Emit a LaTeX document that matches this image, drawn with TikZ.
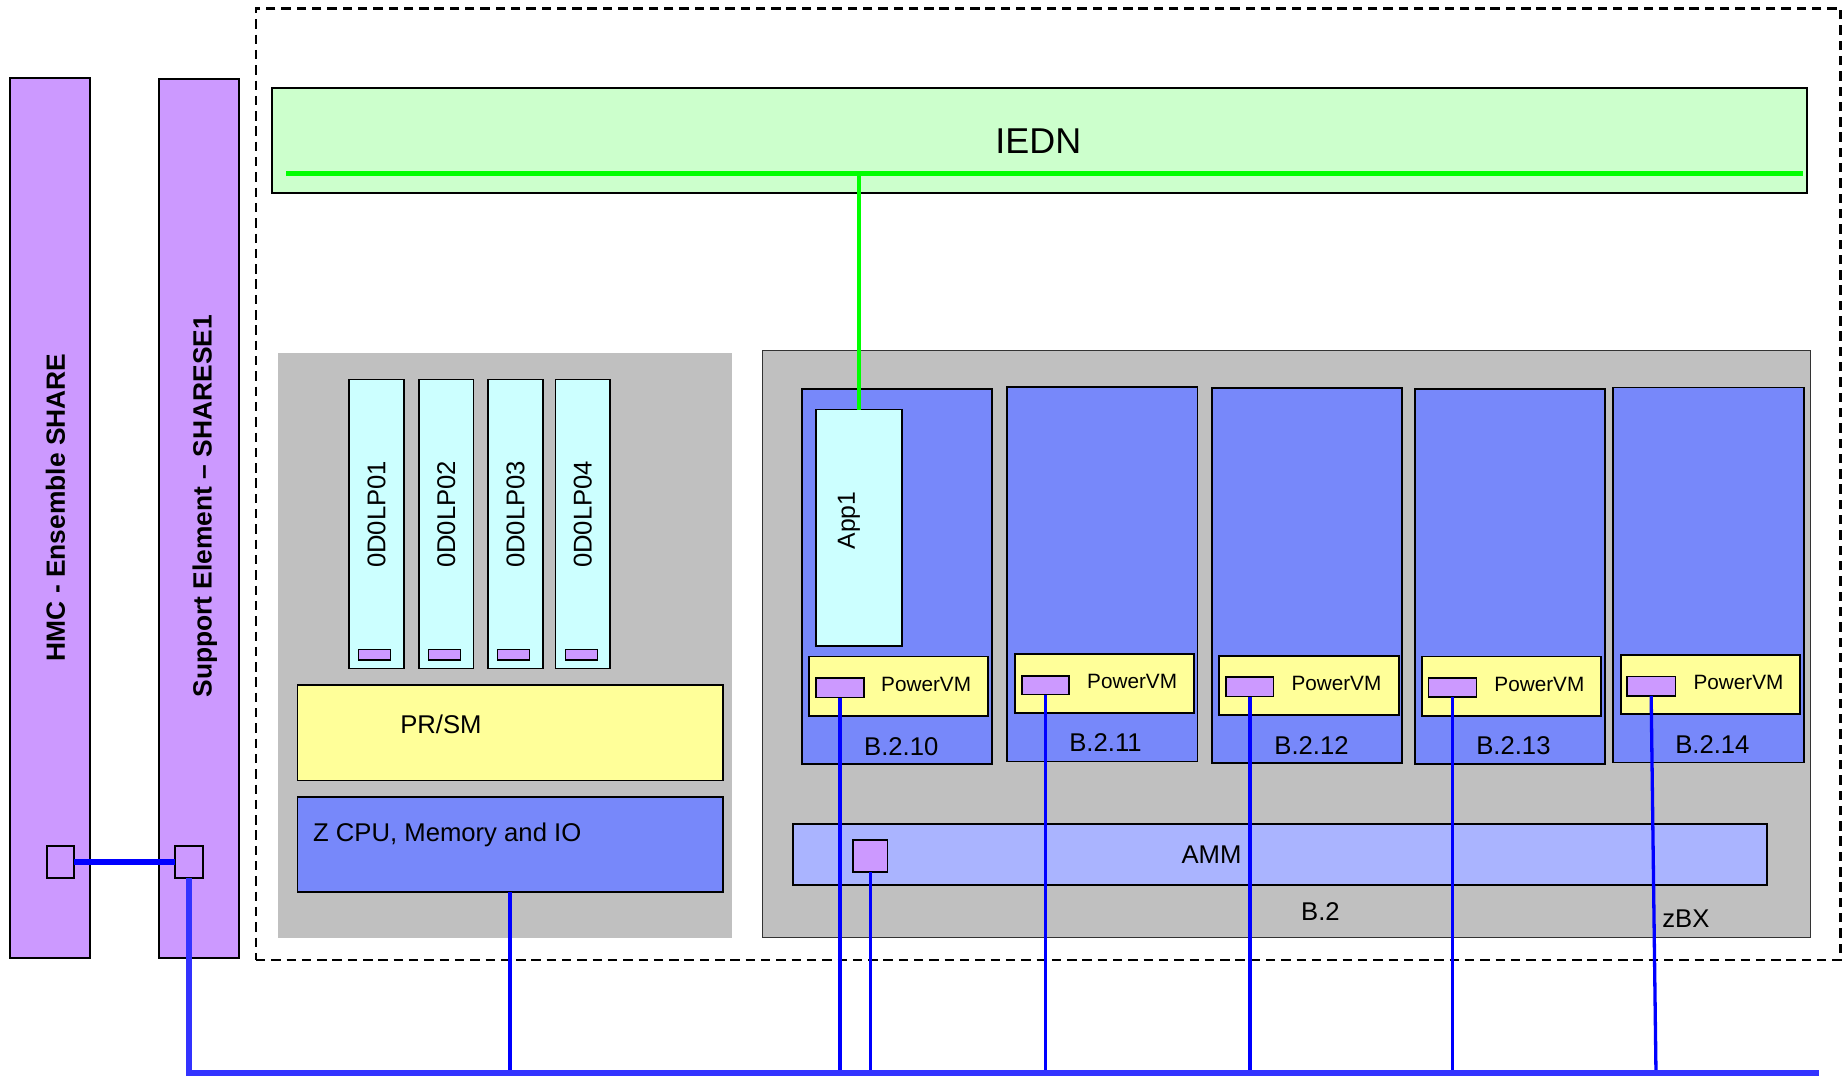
\documentclass[tikz,border=0pt]{standalone}
\usepackage{fontspec}
\setmainfont{Liberation Sans}
\definecolor{purp}{HTML}{CC99FF}
\definecolor{iednc}{HTML}{CCFFCC}
\definecolor{grayb}{HTML}{C0C0C0}
\definecolor{blade}{HTML}{7788FA}
\definecolor{ammc}{HTML}{AAB4FF}
\definecolor{cyanb}{HTML}{CCFFFF}
\definecolor{yel}{HTML}{FFFF99}
\definecolor{lineb}{HTML}{0000FF}
\definecolor{busb}{HTML}{3333FF}
\definecolor{grn}{HTML}{00FF00}
\newcommand\mybox[6]{\node[#6,inner sep=0pt,outer sep=0pt,minimum width={(#4-#2)*1pt},minimum height={(#5-#3)*1pt}] (#1) at ({(#2+#4)/2},{(#3+#5)/2}) {};}
\begin{document}
\begin{tikzpicture}[x=1pt,y=-1pt,
  bord/.style={draw=black,line width=1.3pt},
  txt/.style={inner sep=0pt,outer sep=0pt},
  fL/.style={font=\fontsize{21.8}{26}\selectfont},
  fP/.style={font=\fontsize{17.6}{21}\selectfont},
  fB/.style={font=\fontsize{22.4}{27}\selectfont\bfseries},
  fI/.style={font=\fontsize{30.5}{36}\selectfont},
  fA/.style={font=\fontsize{21}{25}\selectfont},
  thinline/.style={draw=lineb,line width=2.8pt},
  busline/.style={draw=busb,line width=4.6pt},
  greenline/.style={draw=grn,line width=3.9pt}]
\useasboundingbox (0,0) rectangle (1568,914.8);

% dashed enclosure
\mybox{encl}{217.4}{7}{1563.5}{815.4}{draw=black,line width=2.4pt,dash pattern=on 8pt off 5pt}

% HMC and SE bars
\mybox{hmc}{8.5}{66.3}{76.4}{813.7}{draw=black,line width=1.5pt,fill=purp}
\node[txt,fB,rotate=90] (hmct) at (47,431) {HMC - Ensemble SHARE};
\mybox{se}{135}{67}{203}{813.7}{draw=black,line width=1.5pt,fill=purp}
\node[txt,fB,rotate=90] (set) at (174,430) {Support Element – SHARESE1};
\mybox{hmcsq}{39.7}{718.6}{62.9}{745.8}{bord,fill=purp}
\mybox{sesq}{148.6}{718.6}{172.4}{745.8}{bord,fill=purp}

% IEDN
\mybox{iedn}{231}{74.7}{1535}{164}{draw=black,line width=2.2pt,fill=iednc}
\node[txt,fI] (iednt) at (882,120) {IEDN};
\coordinate (gL) at (243,147.5);
\coordinate (gR) at (1531.5,147.5);
\draw[greenline] (gL) -- (gR);

% z side
\mybox{zgray}{236}{299.5}{621.5}{796.5}{fill=grayb}
\mybox{lp1}{296.5}{322.3}{343}{567.7}{bord,fill=cyanb}
\mybox{lp2}{356}{322.3}{402}{567.7}{bord,fill=cyanb}
\mybox{lp3}{414.6}{322.3}{461}{567.7}{bord,fill=cyanb}
\mybox{lp4}{472}{322.3}{518}{567.7}{bord,fill=cyanb}
\mybox{lr1}{304.7}{551.8}{332}{560.6}{draw=black,line width=1pt,fill=purp}
\mybox{lr2}{364}{551.8}{391.3}{560.6}{draw=black,line width=1pt,fill=purp}
\mybox{lr3}{422.8}{551.8}{450.1}{560.6}{draw=black,line width=1pt,fill=purp}
\mybox{lr4}{480.2}{551.8}{507.5}{560.6}{draw=black,line width=1pt,fill=purp}
\node[txt,fL,rotate=90] (lp1t) at (lp1 |- 0,437) {0D0LP01};
\node[txt,fL,rotate=90] (lp2t) at (lp2 |- 0,437) {0D0LP02};
\node[txt,fL,rotate=90] (lp3t) at (lp3 |- 0,437) {0D0LP03};
\node[txt,fL,rotate=90] (lp4t) at (lp4 |- 0,437) {0D0LP04};
\mybox{prsm}{252.5}{582}{614}{663}{bord,fill=yel}
\node[txt,fL] (prsmt) at (374.5,615) {PR/SM};
\mybox{zcpu}{252.5}{677}{614}{757.6}{bord,fill=blade}
\node[txt,fL,anchor=west] (zcput) at (266,709) {Z CPU, Memory and IO};

% zBX
\mybox{zbx}{648}{298}{1537.5}{796}{draw=black!80,line width=1pt,fill=grayb}
\mybox{b10}{681}{330.4}{842.6}{649}{bord,fill=blade}
\mybox{b11}{855.5}{328.5}{1017}{647}{bord,fill=blade}
\mybox{b12}{1029.5}{329.7}{1191}{648.3}{bord,fill=blade}
\mybox{b13}{1201.7}{330.4}{1363.4}{649}{bord,fill=blade}
\mybox{b14}{1370}{329}{1532.4}{647.8}{bord,fill=blade}
\mybox{app}{693}{348}{766}{548.7}{bord,fill=cyanb}
\node[txt,fA,rotate=90] (appt) at (721,442) {App1};
\mybox{p10}{687}{557.8}{839}{608}{bord,fill=yel}
\mybox{p11}{862}{555.5}{1014}{605.8}{bord,fill=yel}
\mybox{p12}{1035.5}{557}{1188.4}{607.3}{bord,fill=yel}
\mybox{p13}{1207.9}{557.5}{1360}{608}{bord,fill=yel}
\mybox{p14}{1377}{556.4}{1529}{606.5}{bord,fill=yel}
\mybox{r10}{693}{576}{734}{592.6}{bord,fill=purp}
\mybox{r11}{868}{574}{908}{590}{bord,fill=purp}
\mybox{r12}{1041.5}{575}{1081.8}{591.7}{bord,fill=purp}
\mybox{r13}{1213.3}{576}{1254}{592}{bord,fill=purp}
\mybox{r14}{1382}{574.8}{1423}{591}{bord,fill=purp}
\node[txt,fP,anchor=west] (p10t) at (748.5,581) {PowerVM};
\node[txt,fP,anchor=west] (p11t) at (923.5,579) {PowerVM};
\node[txt,fP,anchor=west] (p12t) at (1097,580.5) {PowerVM};
\node[txt,fP,anchor=west] (p13t) at (1269.4,581) {PowerVM};
\node[txt,fP,anchor=west] (p14t) at (1438.5,579.5) {PowerVM};
\node[txt,fL] (b10t) at (765.5,634) {B.2.10};
\node[txt,fL] (b11t) at (939,631) {B.2.11};
\node[txt,fL] (b12t) at (1114,633) {B.2.12};
\node[txt,fL] (b13t) at (1285.5,633) {B.2.13};
\node[txt,fL] (b14t) at (1454.5,632) {B.2.14};
\mybox{amm}{673.7}{700}{1500.9}{751.8}{bord,fill=ammc}
\node[txt,fL] (ammt) at (1029,726) {AMM};
\mybox{ammsq}{724.5}{713.5}{754}{740.7}{bord,fill=purp}
\node[txt,fL] (b2t) at (1121.6,774.4) {B.2};
\node[txt,fL] (zbxt) at (1432,780.6) {zBX};

% connectors
\draw[greenline] (app.north) -- (app.north |- gL);
\draw[draw=lineb,line width=4.5pt] (hmcsq.east) -- (sesq.west);
\coordinate (busR) at (1545,911.5);
\coordinate (b14e) at (1406.6,911.5);
\draw[thinline] (zcpu.south) -- (zcpu.south |- busR);
\draw[thinline] (r10.south) -- (r10.south |- busR);
\draw[thinline] (ammsq.south) -- (ammsq.south |- busR);
\draw[thinline] (r11.south) -- (r11.south |- busR);
\draw[thinline] (r12.south) -- (r12.south |- busR);
\draw[thinline] (r13.south) -- (r13.south |- busR);
\draw[thinline] (r14.south) -- (b14e);
\draw[busline] (sesq.south) |- (busR);
\end{tikzpicture}
\end{document}
